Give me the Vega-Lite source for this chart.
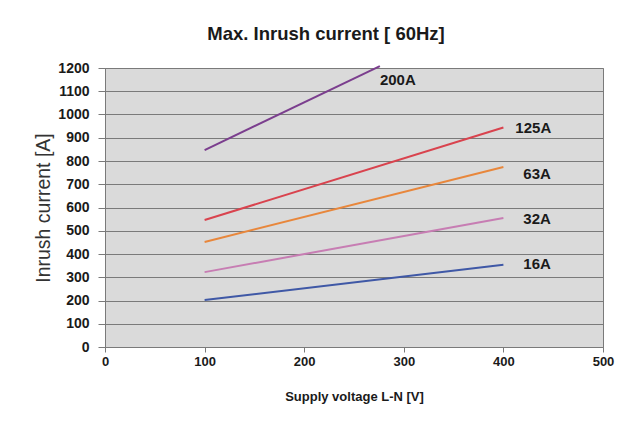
{
  "$schema": "https://vega.github.io/schema/vega-lite/v6.json",
  "width": 498,
  "height": 279,
  "autosize": {"type": "none"},
  "padding": {"left": 105, "top": 68, "right": 34, "bottom": 76},
  "background": "white",
  "title": {
    "text": "Max. Inrush current [ 60Hz]",
    "font": "Liberation Sans",
    "fontSize": 18.5,
    "fontWeight": "bold",
    "color": "#1a1a1a",
    "anchor": "middle",
    "frame": "group",
    "dx": -28,
    "offset": 18
  },
  "config": {
    "view": {"fill": "#DADADA", "stroke": "#7a7a7a", "strokeWidth": 1},
    "axis": {
      "labelFont": "Liberation Sans",
      "labelFontWeight": "bold",
      "labelColor": "#1a1a1a",
      "labelOverlap": false,
      "labelBound": false,
      "labelFlush": false,
      "format": "d",
      "titleFont": "Liberation Sans",
      "titleColor": "#1a1a1a",
      "domainColor": "#7a7a7a",
      "tickColor": "#7a7a7a",
      "gridColor": "#7a7a7a",
      "gridOpacity": 1,
      "gridWidth": 1
    }
  },
  "datasets": {
    "lines": [
      {"rating": "200A", "voltage": 100, "current": 847},
      {"rating": "200A", "voltage": 276, "current": 1208},
      {"rating": "125A", "voltage": 100, "current": 546},
      {"rating": "125A", "voltage": 400, "current": 944},
      {"rating": "63A", "voltage": 100, "current": 452},
      {"rating": "63A", "voltage": 400, "current": 774},
      {"rating": "32A", "voltage": 100, "current": 322},
      {"rating": "32A", "voltage": 400, "current": 555},
      {"rating": "16A", "voltage": 100, "current": 202},
      {"rating": "16A", "voltage": 400, "current": 354}
    ],
    "labels": [
      {"label": "200A", "voltage": 276, "current": 1148},
      {"label": "125A", "voltage": 412, "current": 942},
      {"label": "63A", "voltage": 420, "current": 745},
      {"label": "32A", "voltage": 420, "current": 550},
      {"label": "16A", "voltage": 420, "current": 356}
    ]
  },
  "encoding": {
    "x": {
      "field": "voltage",
      "type": "quantitative",
      "scale": {"domain": [0, 500], "nice": false},
      "axis": {
        "title": "Supply voltage L-N [V]",
        "titleFontSize": 13,
        "titleFontWeight": "bold",
        "titlePadding": 22,
        "values": [0, 100, 200, 300, 400, 500],
        "grid": false,
        "tickSize": 5,
        "labelFontSize": 13,
        "labelPadding": 3
      }
    },
    "y": {
      "field": "current",
      "type": "quantitative",
      "scale": {"domain": [0, 1200], "nice": false},
      "axis": {
        "title": "Inrush current [A]",
        "titleFontSize": 19.5,
        "titleFontWeight": "normal",
        "titleColor": "#333333",
        "titlePadding": 4,
        "values": [0, 100, 200, 300, 400, 500, 600, 700, 800, 900, 1000, 1100, 1200],
        "grid": true,
        "tickSize": 7,
        "labelFontSize": 14,
        "labelPadding": 9
      }
    }
  },
  "layer": [
    {
      "data": {"name": "lines"},
      "mark": {"type": "line", "strokeWidth": 2},
      "encoding": {
        "color": {
          "field": "rating",
          "type": "nominal",
          "scale": {
            "domain": ["200A", "125A", "63A", "32A", "16A"],
            "range": ["#7B3E8E", "#D9434E", "#E8873C", "#C77DB3", "#3F58A6"]
          },
          "legend": null
        }
      }
    },
    {
      "data": {"name": "labels"},
      "mark": {
        "type": "text",
        "align": "left",
        "baseline": "middle",
        "font": "Liberation Sans",
        "fontSize": 15,
        "fontWeight": "bold",
        "color": "#1a1a1a"
      },
      "encoding": {
        "text": {"field": "label"}
      }
    }
  ]
}
